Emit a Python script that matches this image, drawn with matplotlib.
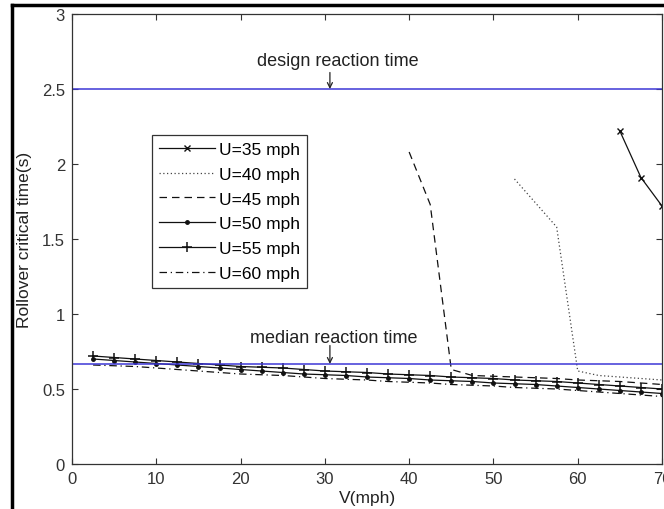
import matplotlib.pyplot as plt
from matplotlib.lines import Line2D
from matplotlib.ticker import FuncFormatter

plt.rcParams['font.family'] = ['Liberation Sans', 'DejaVu Sans']

# speed grid of the low curves
v_all = [2.5, 5, 7.5, 10, 12.5, 15, 17.5, 20, 22.5, 25, 27.5, 30, 32.5, 35,
         37.5, 40, 42.5, 45, 47.5, 50, 52.5, 55, 57.5, 60, 62.5, 65, 67.5, 70]

v_35 = [65, 67.5, 70]
t_35 = [2.22, 1.91, 1.72]

v_40 = [52.5, 55, 57.5, 60, 62.5, 65, 67.5, 70]
t_40 = [1.90, 1.74, 1.58, 0.62, 0.59, 0.58, 0.57, 0.56]

v_45 = [40, 42.5, 45, 47.5, 50, 52.5, 55, 57.5, 60, 62.5, 65, 67.5, 70]
t_45 = [2.08, 1.73, 0.63, 0.59, 0.585, 0.58, 0.575, 0.57, 0.56, 0.555, 0.55, 0.54, 0.53]

t_50 = [0.70, 0.69, 0.68, 0.67, 0.66, 0.65, 0.64, 0.63, 0.62, 0.61, 0.60, 0.595, 0.59, 0.58,
        0.575, 0.57, 0.56, 0.555, 0.55, 0.54, 0.535, 0.53, 0.52, 0.51, 0.50, 0.49, 0.48, 0.47]
t_55 = [0.72, 0.71, 0.70, 0.69, 0.68, 0.67, 0.66, 0.65, 0.645, 0.64, 0.63, 0.62, 0.615, 0.61,
        0.60, 0.595, 0.59, 0.58, 0.575, 0.57, 0.56, 0.555, 0.55, 0.54, 0.53, 0.52, 0.51, 0.50]
t_60 = [0.66, 0.655, 0.65, 0.64, 0.63, 0.62, 0.61, 0.60, 0.595, 0.59, 0.58, 0.57, 0.565, 0.56,
        0.55, 0.545, 0.54, 0.53, 0.525, 0.52, 0.51, 0.505, 0.50, 0.49, 0.48, 0.47, 0.46, 0.45]

design_time = 2.5
median_time = 0.667

fig = plt.figure(figsize=(6.64, 5.10), dpi=100)
ax = fig.add_axes([72 / 664, 45 / 510, 590 / 664, 450 / 510])

k = '#111111'
ax.plot(v_35, t_35, color=k, lw=0.9, marker='x', ms=4, label='U=35 mph')
ax.plot(v_40, t_40, color='#444444', lw=0.9, ls=(0, (1, 2)), label='U=40 mph')
ax.plot(v_45, t_45, color=k, lw=0.9, ls=(0, (6, 4)), label='U=45 mph')
ax.plot(v_all, t_50, color=k, lw=0.9, marker='.', ms=5, label='U=50 mph')
ax.plot(v_all, t_55, color=k, lw=0.9, marker='+', ms=7, mew=1.1, label='U=55 mph')
ax.plot(v_all, t_60, color=k, lw=0.9, ls=(0, (6, 3, 1, 3)), label='U=60 mph')

blue = '#3d37d6'
ax.axhline(design_time, color=blue, lw=1.1)
ax.axhline(median_time, color=blue, lw=1.1)

tc = '#222222'
arrow = dict(arrowstyle='->', color=tc, lw=0.9, mutation_scale=9, shrinkA=0, shrinkB=0)
ax.text(31.5, 2.69, 'design reaction time', ha='center', va='center', fontsize=13, color=tc)
ax.annotate('', xy=(30.6, design_time), xytext=(30.6, 2.61), arrowprops=arrow)
ax.text(31.0, 0.845, 'median reaction time', ha='center', va='center', fontsize=13, color=tc)
ax.annotate('', xy=(30.6, median_time), xytext=(30.6, 0.79), arrowprops=arrow)

ax.set_xlim(0, 70)
ax.set_ylim(0, 3)
ax.set_xticks([0, 10, 20, 30, 40, 50, 60, 70])
ax.set_yticks([0, 0.5, 1, 1.5, 2, 2.5, 3])
ax.yaxis.set_major_formatter(FuncFormatter(lambda y, p: f'{y:g}'))
ax.tick_params(direction='in', top=True, right=True, length=4, width=0.8,
               labelsize=12, labelcolor='#333333', color='#333333', pad=5)
for s in ax.spines.values():
    s.set_color('#333333')
    s.set_linewidth(0.9)

ax.set_xlabel('V(mph)', fontsize=12.5, color=tc, labelpad=3)
ax.set_ylabel('Rollover critical time(s)', fontsize=12.5, color=tc, labelpad=7)

leg = ax.legend(loc='upper left', bbox_to_anchor=(0.136, 0.731), borderaxespad=0,
                fontsize=12.5, handlelength=3.2, handletextpad=0.25, labelspacing=0.55,
                fancybox=False, framealpha=1, edgecolor='#333333', borderpad=0.4)
leg.get_frame().set_linewidth(0.9)

# black frame of the original screenshot on the left and top
fig.add_artist(Line2D([12 / 664, 12 / 664], [0, 1 - 6 / 510], color='black', lw=2.5))
fig.add_artist(Line2D([12 / 664, 1], [1 - 6 / 510, 1 - 6 / 510], color='black', lw=2.5))

fig.savefig('out.png', dpi=100)
